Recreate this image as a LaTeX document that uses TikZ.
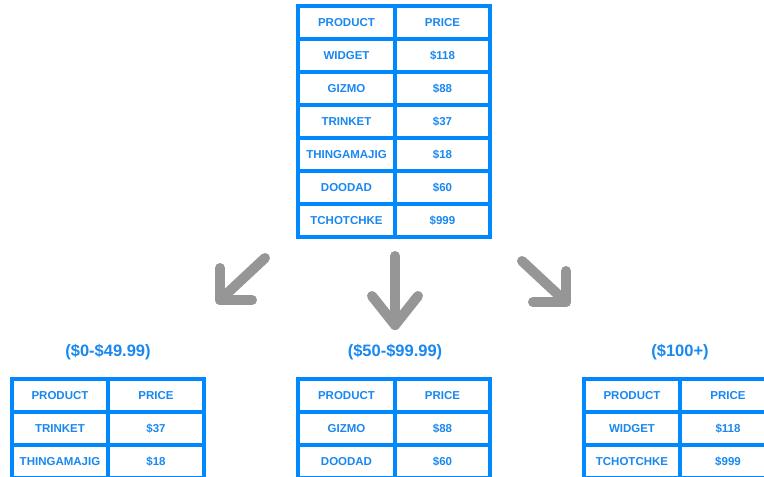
\documentclass[tikz,border=0pt]{standalone}
\usepackage{fontspec}
\setmainfont{Liberation Sans}
\definecolor{gridblue}{RGB}{0,136,255}
\definecolor{textblue}{RGB}{25,136,240}
\definecolor{arrowgray}{RGB}{150,150,150}
\tikzset{
  cell/.style={draw=gridblue, line width=3.1pt, rectangle, minimum height=33pt,
    inner sep=0pt, text=textblue, font=\bfseries\fontsize{11.5}{12}\selectfont},
  rangelabel/.style={text=textblue, font=\bfseries\fontsize{16.5}{18}\selectfont, inner sep=0pt},
  bigarrow/.style={draw=arrowgray, line width=10pt, line cap=round, line join=round}
}
% #1 table name, #2 left x, #3 top y, #4 width of first column, #5 width of second column, #6 rows
\newcommand\pricetable[6]{%
  \foreach \prod/\price [count=\r] in {#6} {
    \node[cell, minimum width=#4pt] (#1-\r-a) at ({#2+#4/2}, {#3+33*(\r-1)+16.5}) {\prod};
    \node[cell, minimum width=#5pt] (#1-\r-b) at ({#2+#4+#5/2}, {#3+33*(\r-1)+16.5}) {\price};
  }%
}
\begin{document}
\begin{tikzpicture}[x=1pt, y=-1pt]
\useasboundingbox (0,0) rectangle (764,477);
\clip (0,0) rectangle (764,477);
\fill[white] (0,0) rectangle (764,477);

% full product list
\pricetable{all}{298}{6}{97}{95}{PRODUCT/PRICE, WIDGET/\$118, GIZMO/\$88, TRINKET/\$37, THINGAMAJIG/\$18, DOODAD/\$60, TCHOTCHKE/\$999}

% split arrows
\draw[bigarrow] (265,258) -- (220,300);
\draw[bigarrow] (220,268) -- (220,300) -- (252,300);
\draw[bigarrow] (395,256) -- (395,325);
\draw[bigarrow] (372,296) -- (395,325) -- (418,296);
\draw[bigarrow] (522,261) -- (566,302);
\draw[bigarrow] (566,271) -- (566,302) -- (533,302);

% price buckets
\node[rangelabel] (lowlbl) at (108,352) {(\$0-\$49.99)};
\node[rangelabel] (midlbl) at (395,352) {(\$50-\$99.99)};
\node[rangelabel] (highlbl) at (680,352) {(\$100+)};

\pricetable{low}{12}{379}{96}{96}{PRODUCT/PRICE, TRINKET/\$37, THINGAMAJIG/\$18}
\pricetable{mid}{298}{379}{97}{95}{PRODUCT/PRICE, GIZMO/\$88, DOODAD/\$60}
\pricetable{high}{584}{379}{96}{96}{PRODUCT/PRICE, WIDGET/\$118, TCHOTCHKE/\$999}
\end{tikzpicture}
\end{document}
